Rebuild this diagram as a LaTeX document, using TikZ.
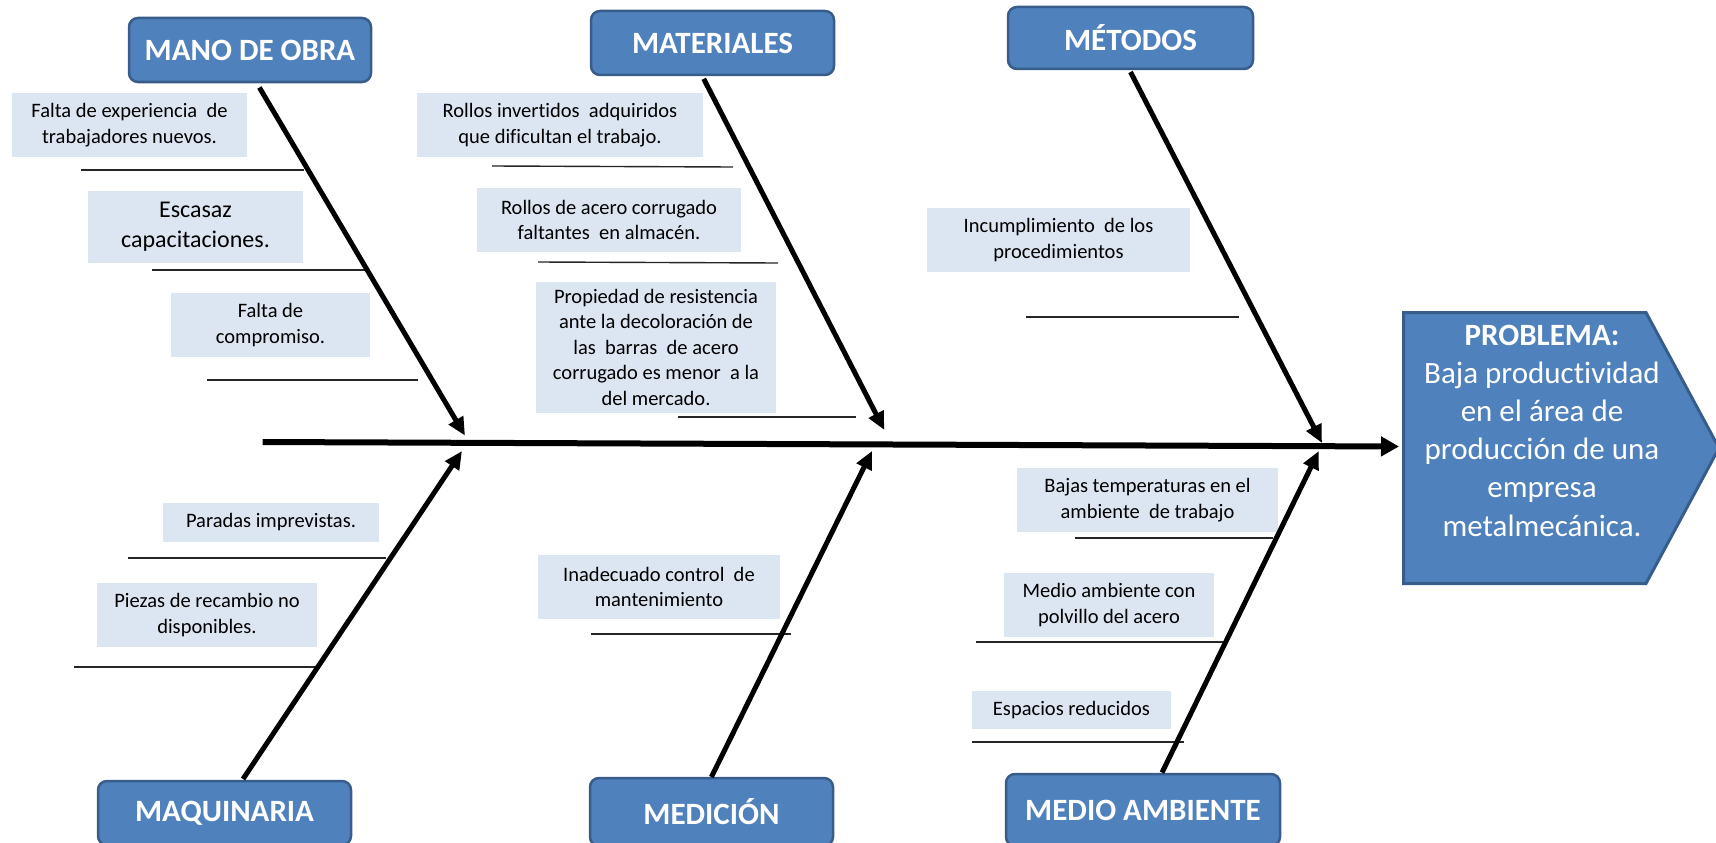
\documentclass[tikz,border=0pt]{standalone}
\usepackage{fontspec}
\setmainfont{Carlito}[Ligatures=NoCommon]
\usetikzlibrary{arrows.meta}
\definecolor{hdfill}{HTML}{4F81BD}
\definecolor{hdline}{HTML}{385D8A}
\definecolor{cfill}{HTML}{DCE6F2}
\begin{document}
\begin{tikzpicture}[x=1pt,y=-1pt,
  head/.style={draw=hdline,line width=2.5pt,fill=hdfill,rounded corners=9pt,text=white,
    font=\bfseries\fontsize{31}{37}\selectfont,inner sep=0pt},
  cause/.style={fill=cfill,inner sep=0pt,align=center,font=\fontsize{20.5}{25.5}\selectfont},
  bone/.style={line width=5pt,-{Triangle[length=18pt,width=16pt]}},
  spine/.style={line width=6pt,-{Triangle[length=18pt,width=19pt]}},
  rib/.style={line width=1.4pt,black!85}]
\useasboundingbox (0,0) rectangle (1716,843);

% problem head
\draw[draw=hdline,line width=3pt,fill=hdfill] (1403.5,312.5) -- (1646,312.5) -- (1719,448) -- (1646,583.5) -- (1403.5,583.5) -- cycle;
\node[text=white,align=center,font=\fontsize{31}{38.2}\selectfont] (prob) at (1542,430.5)
  {\textbf{PROBLEMA:}\\Baja productividad\\en el área de\\producción de una\\empresa\\metalmecánica.};

% category headings
\node[head,minimum width=242pt,minimum height=64pt] (mo)  at (250,50)    {MANO DE OBRA};
\node[head,minimum width=243pt,minimum height=64pt] (mat) at (712.5,43)  {MATERIALES};
\node[head,minimum width=245pt,minimum height=62pt] (met) at (1130.5,38) {MÉTODOS};
\node[head,minimum width=253pt,minimum height=64pt] (maq) at (224.5,813) {MAQUINARIA};
\node[head,minimum width=243pt,minimum height=68pt] (med) at (711.5,812) {MEDICIÓN};
\node[head,minimum width=274pt,minimum height=72pt] (ma)  at (1143,810)  {MEDIO AMBIENTE};

% causes
\node[cause,minimum width=235pt,minimum height=64pt] (c1) at (129.5,125) {Falta de experiencia\ \ de\\trabajadores nuevos.};
\node[cause,minimum width=215pt,minimum height=72pt,font=\fontsize{24}{30}\selectfont] (c2) at (195.5,227) {Escasaz\\capacitaciones.};
\node[cause,minimum width=199pt,minimum height=64pt] (c3) at (270.5,325) {Falta de\\compromiso.};
\node[cause,minimum width=286pt,minimum height=64pt] (c4) at (560,125) {Rollos invertidos\ \ adquiridos\\que dificultan el trabajo.};
\node[cause,minimum width=264pt,minimum height=64pt] (c5) at (609,220) {Rollos de acero corrugado\\faltantes\ \ en almacén.};
\node[cause,minimum width=240pt,minimum height=131pt] (c6) at (656,347) {Propiedad de resistencia\\ante la decoloración de\\las\ \ barras\ \ de acero\\corrugado es menor\ \ a la\\del mercado.};
\node[cause,minimum width=263pt,minimum height=64pt] (c7) at (1058.5,240) {Incumplimiento\ \ de los\\procedimientos};
\node[cause,minimum width=261pt,minimum height=64pt] (c8) at (1147.5,500) {Bajas temperaturas en el\\ambiente\ \ de trabajo};
\node[cause,minimum width=242pt,minimum height=64pt] (c9) at (659,587) {Inadecuado control\ \ de\\mantenimiento};
\node[cause,minimum width=210pt,minimum height=64pt] (c10) at (1109,605) {Medio ambiente con\\polvillo del acero};
\node[cause,minimum width=199pt,minimum height=38pt] (c11) at (1071.5,710) {Espacios reducidos};
\node[cause,minimum width=216pt,minimum height=39pt] (c12) at (271,522.5) {Paradas imprevistas.};
\node[cause,minimum width=220pt,minimum height=64pt] (c13) at (207,615) {Piezas de recambio no\\disponibles.};

% rib lines under causes
\draw[rib] (81,170) -- (304,170);
\draw[rib] (152,270) -- (365,270);
\draw[rib] (207,380) -- (418,380);
\draw[rib] (492,166) -- (733,167);
\draw[rib] (538,262) -- (778,263);
\draw[rib] (678,417) -- (856,417);
\draw[rib] (1026,317) -- (1239,317);
\draw[rib] (1075,538) -- (1273,538);
\draw[rib] (591,634) -- (791,634);
\draw[rib] (976,642) -- (1223,642);
\draw[rib] (972,742) -- (1184,742);
\draw[rib] (128,558) -- (386,558);
\draw[rib] (74,667) -- (316,667);

% spine and bones
\coordinate (sps) at (262.7,442);
\coordinate (probW) at (1399,446.5);
\coordinate (b1s) at (259.4,87.5);  \coordinate (b1e) at (465,435.6);
\coordinate (b2s) at (703.7,78.8);  \coordinate (b2e) at (884.3,430);
\coordinate (b3s) at (1130.5,72);   \coordinate (b3e) at (1322,443);
\coordinate (b4s) at (243,779);     \coordinate (b4e) at (462,451);
\coordinate (b5s) at (711.4,777);   \coordinate (b5e) at (872,451);
\coordinate (b6s) at (1162,772.6);  \coordinate (b6e) at (1318.8,451);

\draw[spine] (sps) -- (probW);
\draw[bone] (b1s) -- (b1e);
\draw[bone] (b2s) -- (b2e);
\draw[bone] (b3s) -- (b3e);
\draw[bone] (b4s) -- (b4e);
\draw[bone] (b5s) -- (b5e);
\draw[bone] (b6s) -- (b6e);
\end{tikzpicture}
\end{document}
